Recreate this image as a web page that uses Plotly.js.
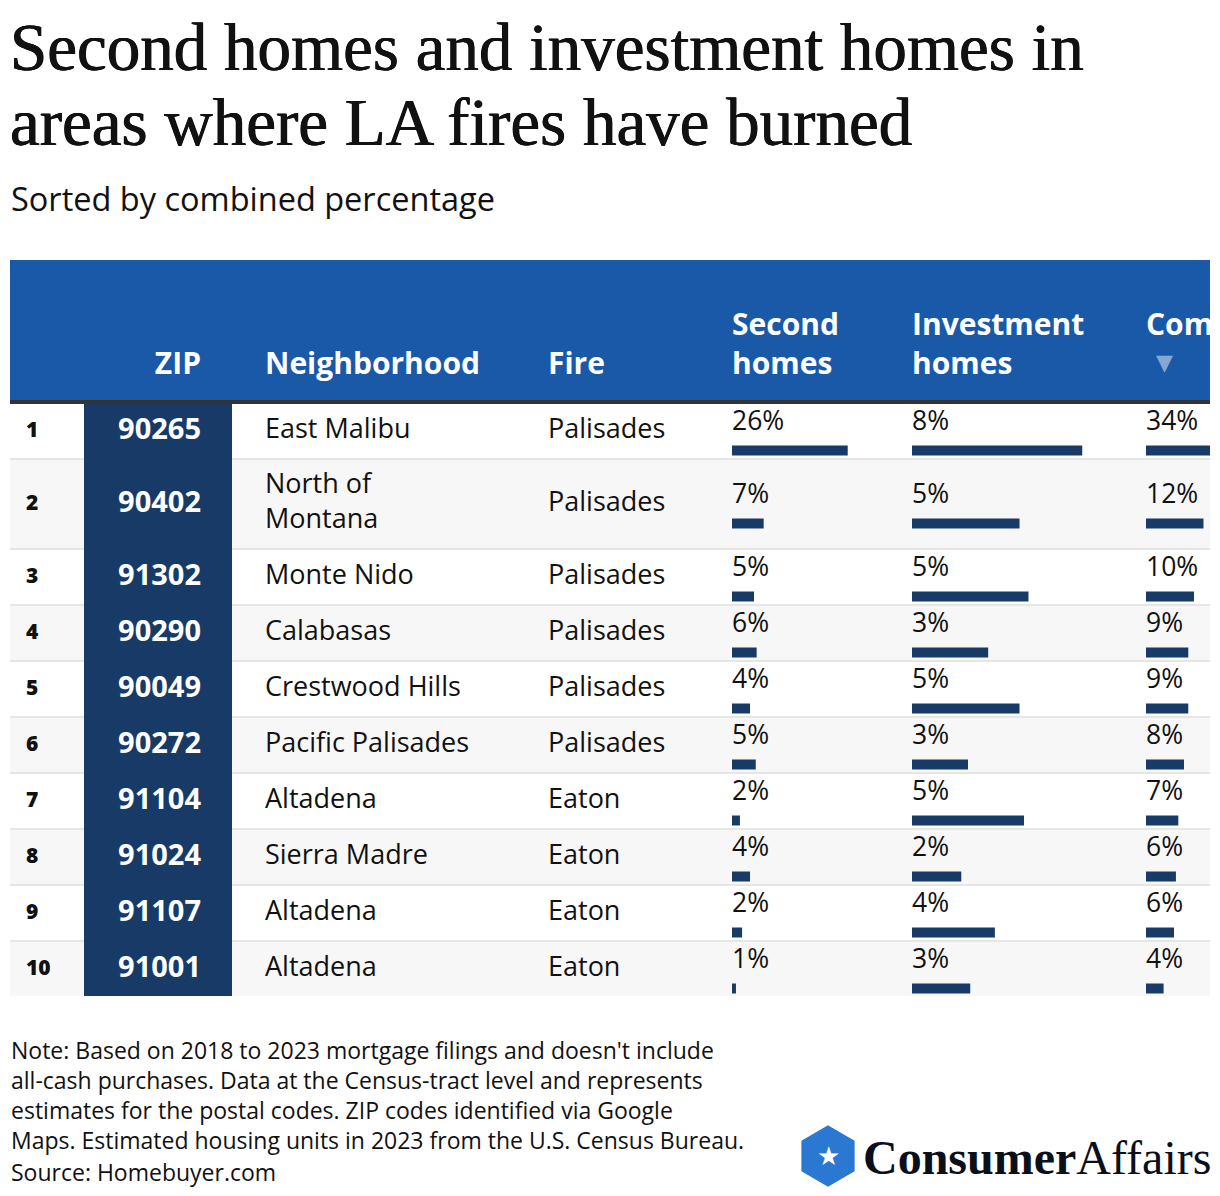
<!DOCTYPE html>
<html><head><meta charset="utf-8">
<script src="https://cdn.plot.ly/plotly-3.0.1.min.js"></script>
<style>html,body{margin:0;padding:0;background:#fff}</style>
</head><body><div id="chart" style="width:1220px;height:1196px"></div>
<script>
// ---------------- data ----------------
const ranks = ['1','2','3','4','5','6','7','8','9','10'];
const zips = ['90265','90402','91302','90290','90049','90272','91104','91024','91107','91001'];
const neighborhoods = ['East Malibu','North of<br>Montana','Monte Nido','Calabasas','Crestwood Hills',
  'Pacific Palisades','Altadena','Sierra Madre','Altadena','Altadena'];
const fires = ['Palisades','Palisades','Palisades','Palisades','Palisades','Palisades','Eaton','Eaton','Eaton','Eaton'];
const secondHomes = [26.3, 7.2, 5.0, 5.6, 4.1, 5.4, 1.8, 4.1, 2.3, 0.9];
const investmentHomes = [7.6, 4.8, 5.2, 3.4, 4.8, 2.5, 5.0, 2.2, 3.7, 2.6];
const combinedShare = [33.9, 12.1, 10.1, 8.9, 8.9, 8.0, 6.8, 6.3, 5.9, 3.7];
const columnHeaders = ['ZIP','Neighborhood','Fire','Second<br>homes','Investment<br>homes','Combined'];
const titleLines = ['Second homes and investment homes in','areas where LA fires have burned'];
const subtitleText = 'Sorted by combined percentage';
const noteLines = ["Note: Based on 2018 to 2023 mortgage filings and doesn't include",
  'all-cash purchases. Data at the Census-tract level and represents',
  'estimates for the postal codes. ZIP codes identified via Google',
  'Maps. Estimated housing units in 2023 from the U.S. Census Bureau.'];
const sourceText = 'Source: Homebuyer.com';

// ---------------- layout helpers ----------------
const W = 1220, H = 1196;
const px = x => x / W, py = y => 1 - y / H;
const NAVY = '#173a67', BLUE = '#1a59a7', INK = '#111111';
const SANS = 'Open Sans, Roboto, sans-serif';
const SERIF = 'Liberation Serif, Times New Roman, serif';
const pct = v => Math.round(v) + '%';

const BODY_TOP = 404;
const rowTops = [], rowCenters = [], rowPitch = [];
let cursor = BODY_TOP;
neighborhoods.forEach(n => {
  const p = n.includes('<br>') ? 90 : 56;
  rowTops.push(cursor); rowPitch.push(p); rowCenters.push(cursor + (p - 2) / 2);
  cursor += p;
});
const BODY_BOTTOM = cursor - 2;
const n = zips.length;
const fill = v => Array(n).fill(v);
const barY = rowCenters.map(c => c + 19.5);
const labelY = rowCenters.map(c => c - 7.5);

// ---------------- traces ----------------
const barBase = {type:'bar', orientation:'h', yaxis:'y', width:10, marker:{color:NAVY}, hoverinfo:'skip', showlegend:false};
const textBase = (extra) => Object.assign({type:'scatter', mode:'text', xaxis:'x', yaxis:'y', hoverinfo:'skip',
  showlegend:false, cliponaxis:true}, extra);

const traces = [
  Object.assign({}, barBase, {name:'Second homes', x: secondHomes, y: barY, xaxis:'x2'}),
  Object.assign({}, barBase, {name:'Investment homes', x: investmentHomes, y: barY, xaxis:'x3'}),
  Object.assign({}, barBase, {name:'Combined', x: combinedShare, y: barY, xaxis:'x4'}),
  textBase({x: fill(26), y: rowCenters.map(c => c + 1), text: ranks, textposition:'middle right',
    textfont:{family:SANS, size:21, color:INK, weight:800}}),
  textBase({x: fill(201), y: rowCenters.map(c => c + 0.5), text: zips, textposition:'middle left',
    textfont:{family:SANS, size:29, color:'#ffffff', weight:700}}),
  textBase({x: fill(265), y: rowCenters, text: neighborhoods, textposition:'middle right',
    textfont:{family:SANS, size:27, color:INK}}),
  textBase({x: fill(548), y: rowCenters, text: fires, textposition:'middle right',
    textfont:{family:SANS, size:27, color:INK}}),
  textBase({x: fill(732), y: labelY, text: secondHomes.map(pct), textposition:'middle right',
    textfont:{family:SANS, size:26.5, color:INK}}),
  textBase({x: fill(912), y: labelY, text: investmentHomes.map(pct), textposition:'middle right',
    textfont:{family:SANS, size:26.5, color:INK}}),
  textBase({x: fill(1146), y: labelY, text: combinedShare.map(pct), textposition:'middle right',
    textfont:{family:SANS, size:26.5, color:INK}}),
  // header row
  textBase({yaxis:'y2', x:[201], y:[381.5], text:[columnHeaders[0]], textposition:'top left',
    textfont:{family:SANS, size:30, color:'#ffffff', weight:700}}),
  textBase({yaxis:'y2', x:[265, 548, 732, 912, 1146], y:[381.5,381.5,381.5,381.5,381.5],
    text:[columnHeaders[1], columnHeaders[2], columnHeaders[3], columnHeaders[4], columnHeaders[5] + '<br> '],
    textposition:'top right', textfont:{family:SANS, size:30, color:'#ffffff', weight:700}}),
  textBase({yaxis:'y2', x:[1156], y:[364], text:['▼'], textposition:'middle right',
    textfont:{family:'DejaVu Sans', size:22, color:'#86a6d4'}})
];

// ---------------- shapes ----------------
const shapes = [];
const rect = (x0, y0, x1, y1, color) => ({type:'rect', xref:'paper', yref:'paper', layer:'below',
  x0:px(x0), x1:px(x1), y0:py(y1), y1:py(y0), fillcolor:color, line:{width:0}});
shapes.push(rect(10, 260, 1210, 400, BLUE));
shapes.push(rect(10, 400, 1210, 404, '#333333'));
rowTops.forEach((top, i) => {
  shapes.push(rect(10, top, 1210, top + rowPitch[i] - 2, i % 2 ? '#f7f7f7' : '#ffffff'));
  if (i < n - 1) shapes.push(rect(10, top + rowPitch[i] - 2, 1210, top + rowPitch[i], '#e6e6e6'));
});
shapes.push(rect(84, BODY_TOP, 232, BODY_BOTTOM, NAVY));
// logo hexagon
const hx = 828, hy = 1156, hr = 29;
const hexPts = [90, 30, -30, -90, -150, 150].map(a => {
  const r = a * Math.PI / 180;
  return [px(hx + hr * Math.cos(r)), py(hy - hr * Math.sin(r))];
});
shapes.push({type:'path', xref:'paper', yref:'paper', layer:'above',
  path: 'M' + hexPts.map(p => p[0] + ',' + p[1]).join('L') + 'Z',
  fillcolor:'#2b78d3', line:{color:'#2b78d3', width:3}});

// ---------------- annotations ----------------
const ann = (text, x, y, xanchor, yanchor, font, extra) => Object.assign({text, x:px(x), y:py(y),
  xref:'paper', yref:'paper', xanchor, yanchor, showarrow:false, align:'left', font}, extra || {});
const titleFont = {family:SERIF, size:67, color:INK, shadow:'0.45px 0 0 #111, -0.45px 0 0 #111'};
const noteFont = {family:SANS, size:23, color:INK};
const annotations = [
  ann(titleLines[0], 8, 47.5, 'left', 'middle', titleFont),
  ann(titleLines[1], 8, 122.5, 'left', 'middle', titleFont),
  ann(subtitleText, 9, 198, 'left', 'middle', {family:SANS, size:32.5, color:INK}),
  ann(noteLines.join('<br>'), 9, 1032, 'left', 'top', noteFont),
  ann(sourceText, 9, 1172, 'left', 'middle', noteFont),
  ann('<b>Consumer</b>Affairs', 861, 1157, 'left', 'middle', {family:SERIF, size:48, color:'#0b0f1a'}),
  ann('★', 828, 1156, 'center', 'middle', {family:'DejaVu Sans', size:26, color:'#ffffff'})
];

const hidden = {visible:false, fixedrange:true, showgrid:false, zeroline:false};
const layout = {
  width: W, height: H, margin:{l:0, r:0, t:0, b:0},
  paper_bgcolor:'#ffffff', plot_bgcolor:'rgba(0,0,0,0)',
  showlegend:false, barmode:'overlay',
  xaxis: Object.assign({}, hidden, {domain:[px(10), px(1210)], range:[10, 1210]}),
  yaxis: Object.assign({}, hidden, {domain:[py(BODY_BOTTOM), py(BODY_TOP)], range:[BODY_BOTTOM, BODY_TOP]}),
  yaxis2: Object.assign({}, hidden, {domain:[py(400), py(260)], range:[400, 260], anchor:'x'}),
  xaxis2: Object.assign({}, hidden, {domain:[px(732), px(900)], range:[0, 168 / 4.4], anchor:'y'}),
  xaxis3: Object.assign({}, hidden, {domain:[px(912), px(1100)], range:[0, 188 / 22.4], anchor:'y'}),
  xaxis4: Object.assign({}, hidden, {domain:[px(1146), px(1210)], range:[0, 64 / 4.75], anchor:'y'}),
  shapes, annotations
};
Plotly.newPlot('chart', traces, layout, {displayModeBar:false, staticPlot:true});
</script></body></html>
